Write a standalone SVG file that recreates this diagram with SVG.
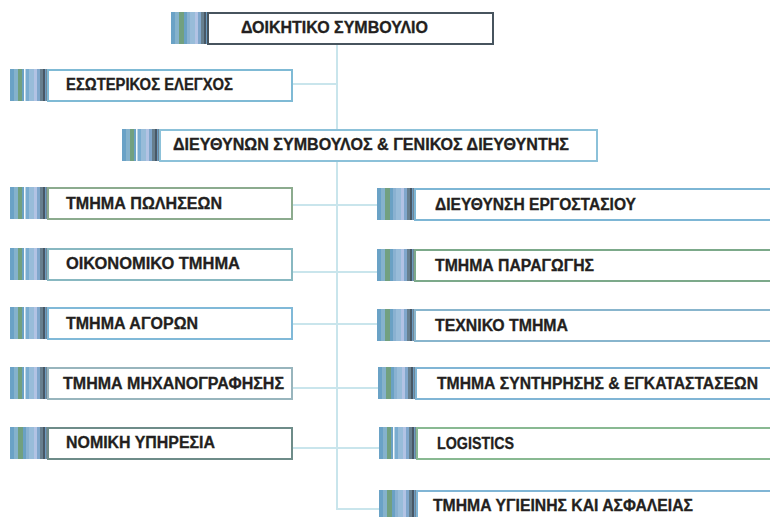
<svg xmlns="http://www.w3.org/2000/svg" xmlns:xlink="http://www.w3.org/1999/xlink" width="770" height="517" viewBox="0 0 770 517">
<style>
.box{fill:#ffffff;stroke-width:2}
.lbl{font-family:"Liberation Sans","DejaVu Sans",Arial,sans-serif;font-weight:bold;font-size:16px;fill:#231f20;stroke:#231f20;stroke-width:0.3}
.con{stroke:#c9e5ec;stroke-width:2;fill:none}
</style>
<defs>
<symbol id="bar" viewBox="0 0 38 32" width="38" height="32" preserveAspectRatio="none">
<rect x="0" y="0" width="4" height="32" fill="#6aa2c6"/>
<rect x="4" y="0" width="4" height="32" fill="#85b2cc"/>
<rect x="8" y="0" width="5" height="32" fill="#72a07f"/>
<rect x="13" y="0" width="3" height="32" fill="#6aa1c4"/>
<rect x="16" y="0" width="3" height="32" fill="#89b1d1"/>
<rect x="19" y="0" width="5" height="32" fill="#98bcd9"/>
<rect x="24" y="0" width="3" height="32" fill="#b2c3e4"/>
<rect x="27" y="0" width="3" height="32" fill="#80a7cc"/>
<rect x="30" y="0" width="3" height="32" fill="#677f8e"/>
<rect x="33" y="0" width="2" height="32" fill="#485866"/>
<rect x="35" y="0" width="1.5" height="32" fill="#6a9ac0"/>
<rect x="36.5" y="0" width="1.5" height="32" fill="#31414d"/>
</symbol>
<symbol id="barg" viewBox="0 0 38 32" width="38" height="32" preserveAspectRatio="none">
<rect x="0" y="0" width="4" height="32" fill="#6aa2c6"/>
<rect x="4" y="0" width="4" height="32" fill="#85b2cc"/>
<rect x="8" y="0" width="4" height="32" fill="#72a07f"/>
<rect x="12" y="0" width="2" height="32" fill="#6aa1c4"/>
<rect x="14" y="0" width="1.5" height="32" fill="#f4f8fa"/>
<rect x="15.5" y="0" width="3.5" height="32" fill="#79acd0"/>
<rect x="19" y="0" width="5" height="32" fill="#98bcd9"/>
<rect x="24" y="0" width="3" height="32" fill="#b2c3e4"/>
<rect x="27" y="0" width="3" height="32" fill="#80a7cc"/>
<rect x="30" y="0" width="3" height="32" fill="#677f8e"/>
<rect x="33" y="0" width="2" height="32" fill="#485866"/>
<rect x="35" y="0" width="1.5" height="32" fill="#6a9ac0"/>
<rect x="36.5" y="0" width="1.5" height="32" fill="#31414d"/>
</symbol>
</defs>
<rect width="770" height="517" fill="#ffffff"/>
<g id="connectors">
<path class="con" d="M337 44 V509 H380"/>
<path class="con" d="M292 84 H337"/>
<path class="con" d="M292 205 H378"/>
<path class="con" d="M292 272 H378"/>
<path class="con" d="M292 324 H378"/>
<path class="con" d="M292 388 H378"/>
<path class="con" d="M292 448 H380"/>
</g>
<g id="n-board">
<use xlink:href="#bar" href="#bar" x="171" y="12"/>
<rect class="box" x="208" y="13" width="285" height="31" stroke="#47545e"/>
<text class="lbl" x="241" y="33" textLength="187" lengthAdjust="spacingAndGlyphs">ΔΟΙΚΗΤΙΚΟ ΣΥΜΒΟΥΛΙΟ</text>
</g>
<g id="n-audit">
<use xlink:href="#barg" href="#barg" x="10" y="69"/>
<rect class="box" x="48" y="70" width="244" height="31" stroke="#7fbad5"/>
<text class="lbl" x="66" y="90" textLength="167" lengthAdjust="spacingAndGlyphs">ΕΣΩΤΕΡΙΚΟΣ ΕΛΕΓΧΟΣ</text>
</g>
<g id="n-ceo">
<use xlink:href="#barg" href="#barg" x="122" y="129"/>
<rect class="box" x="160" y="130" width="437" height="31" stroke="#8cc1d9"/>
<text class="lbl" x="173" y="150" textLength="396" lengthAdjust="spacingAndGlyphs">ΔΙΕΥΘΥΝΩΝ ΣΥΜΒΟΥΛΟΣ &amp; ΓΕΝΙΚΟΣ ΔΙΕΥΘΥΝΤΗΣ</text>
</g>
<g id="n-sales">
<use xlink:href="#barg" href="#barg" x="10" y="187"/>
<rect class="box" x="48" y="188" width="244" height="31" stroke="#8cab8e"/>
<text class="lbl" x="66" y="209" textLength="156" lengthAdjust="spacingAndGlyphs">ΤΜΗΜΑ ΠΩΛΗΣΕΩΝ</text>
</g>
<g id="n-finance">
<use xlink:href="#barg" href="#barg" x="10" y="248"/>
<rect class="box" x="48" y="249" width="244" height="31" stroke="#88b8c1"/>
<text class="lbl" x="66" y="269" textLength="174" lengthAdjust="spacingAndGlyphs">ΟΙΚΟΝΟΜΙΚΟ ΤΜΗΜΑ</text>
</g>
<g id="n-purchasing">
<use xlink:href="#barg" href="#barg" x="10" y="307"/>
<rect class="box" x="48" y="308" width="244" height="31" stroke="#80b9d8"/>
<text class="lbl" x="66" y="329" textLength="132" lengthAdjust="spacingAndGlyphs">ΤΜΗΜΑ ΑΓΟΡΩΝ</text>
</g>
<g id="n-it">
<use xlink:href="#barg" href="#barg" x="10" y="367"/>
<rect class="box" x="48" y="368" width="244" height="31" stroke="#98b5bd"/>
<text class="lbl" x="63" y="389" textLength="221" lengthAdjust="spacingAndGlyphs">ΤΜΗΜΑ ΜΗΧΑΝΟΓΡΑΦΗΣΗΣ</text>
</g>
<g id="n-legal">
<use xlink:href="#bar" href="#bar" x="10" y="427"/>
<rect class="box" x="48" y="428" width="244" height="31" stroke="#6e8c89"/>
<text class="lbl" x="66" y="448" textLength="149" lengthAdjust="spacingAndGlyphs">ΝΟΜΙΚΗ ΥΠΗΡΕΣΙΑ</text>
</g>
<g id="n-plant">
<use xlink:href="#bar" href="#bar" x="377" y="188"/>
<rect class="box" x="415" y="189" width="362" height="31" stroke="#7db6d5"/>
<text class="lbl" x="435" y="210" textLength="201" lengthAdjust="spacingAndGlyphs">ΔΙΕΥΘΥΝΣΗ ΕΡΓΟΣΤΑΣΙΟΥ</text>
</g>
<g id="n-production">
<use xlink:href="#bar" href="#bar" x="377" y="249"/>
<rect class="box" x="415" y="250" width="362" height="31" stroke="#7ca98a"/>
<text class="lbl" x="435" y="271" textLength="159" lengthAdjust="spacingAndGlyphs">ΤΜΗΜΑ ΠΑΡΑΓΩΓΗΣ</text>
</g>
<g id="n-technical">
<use xlink:href="#bar" href="#bar" x="377" y="309"/>
<rect class="box" x="415" y="310" width="362" height="31" stroke="#88b5cd"/>
<text class="lbl" x="435" y="331" textLength="133" lengthAdjust="spacingAndGlyphs">ΤΕΧΝΙΚΟ ΤΜΗΜΑ</text>
</g>
<g id="n-maintenance">
<use xlink:href="#bar" href="#bar" x="378" y="367"/>
<rect class="box" x="416" y="368" width="361" height="31" stroke="#80b5d5"/>
<text class="lbl" x="437" y="389" textLength="321" lengthAdjust="spacingAndGlyphs">ΤΜΗΜΑ ΣΥΝΤΗΡΗΣΗΣ &amp; ΕΓΚΑΤΑΣΤΑΣΕΩΝ</text>
</g>
<g id="n-logistics">
<use xlink:href="#barg" href="#barg" x="379" y="427"/>
<rect class="box" x="417" y="428" width="360" height="31" stroke="#89b992"/>
<text class="lbl" x="437" y="449" textLength="77" lengthAdjust="spacingAndGlyphs">LOGISTICS</text>
</g>
<g id="n-safety">
<use xlink:href="#bar" href="#bar" x="379" y="490"/>
<rect class="box" x="417" y="491" width="360" height="31" stroke="#80b5d5"/>
<text class="lbl" x="433" y="511" textLength="260" lengthAdjust="spacingAndGlyphs">ΤΜΗΜΑ ΥΓΙΕΙΝΗΣ ΚΑΙ ΑΣΦΑΛΕΙΑΣ</text>
</g>
</svg>
